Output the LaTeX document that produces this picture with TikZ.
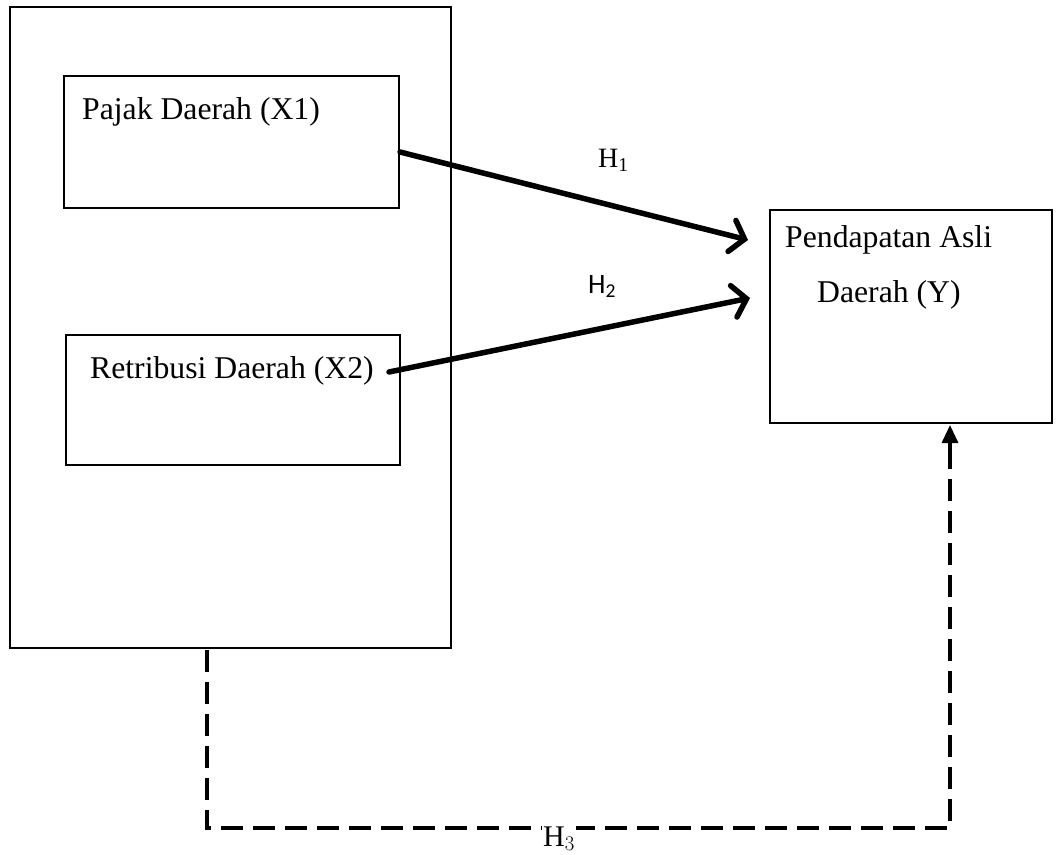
\documentclass[tikz,border=0pt]{standalone}
\usepackage{fontspec}
\setmainfont{Liberation Serif}
\newfontfamily\hsans{Carlito}
\usetikzlibrary{arrows.meta,calc}
\begin{document}
\begin{tikzpicture}[x=1pt,y=-1pt,
  box/.style={draw,line width=2pt},
  lbl/.style={anchor=base west,inner sep=0,font=\fontsize{31.7}{36}\selectfont},
  hyp/.style={line width=5.5pt,line cap=round,-{Straight Barb[length=13pt,width=32pt,line width=5.5pt,line cap=round]}},
  dsh/.style={line width=3.2pt,dash pattern=on 22pt off 10pt}]
\useasboundingbox (0,0) rectangle (1060,854);
\draw[box] (10,7) rectangle (451,648);
\draw[box] (64,76) rectangle (399,208);
\draw[box] (66,335) rectangle (400,465);
\draw[box] (770,210) rectangle (1052,423);
\node[lbl] (t1) at (82,119) {Pajak Daerah (X1)};
\node[lbl] (t2) at (90,378) {Retribusi Daerah (X2)};
\node[lbl] (t3) at (785,247) {Pendapatan Asli};
\node[lbl] (t4) at (817,302) {Daerah (Y)};
\coordinate (a1s) at (400,152);
\coordinate (a1e) at (748,240);
\coordinate (a2s) at (389,372);
\coordinate (a2e) at (750,298);
\draw[hyp] (a1s) -- (a1e);
\draw[hyp] (a2s) -- (a2e);
\node[font=\fontsize{28}{30}\selectfont,anchor=base west,inner sep=0] (h1) at (598,167) {H\textsubscript{1}};
\node[font=\hsans\fontsize{28}{30}\selectfont,anchor=base west,inner sep=0] (h2) at (588,293) {H\textsubscript{2}};
\coordinate (d1) at (207,650);
\coordinate (d2) at (207,828);
\coordinate (d3) at (950,828);
\coordinate (d4) at (950,425);
\draw[dsh] (d1) -- (d2) -- (d3) -- (950,445);
\draw[line width=3.2pt,-{Triangle[length=18pt,width=16pt]}] (950,462) -- (d4);
\node[font=\fontsize{30}{32}\selectfont,anchor=base west,inner sep=0,fill=white,inner xsep=1pt] (h3) at (542,846) {H$_{3}$};
\end{tikzpicture}
\end{document}
